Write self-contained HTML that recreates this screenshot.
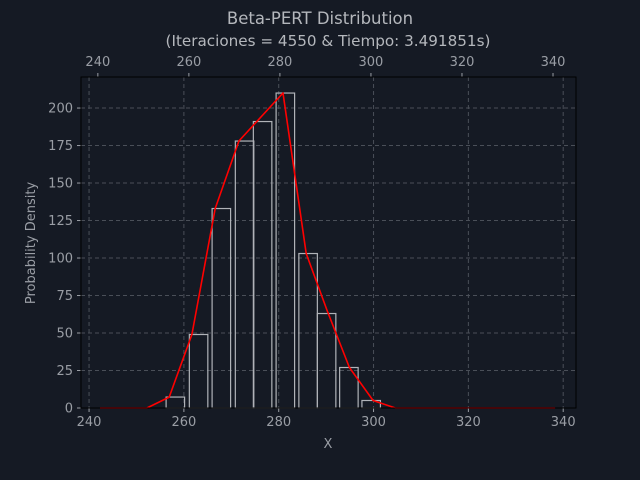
<!DOCTYPE html>
<html><head><meta charset="utf-8"><style>
html,body{margin:0;padding:0;background:#151a24;}
svg{display:block;font-family:"DejaVu Sans","Liberation Sans",sans-serif;}
</style></head><body>
<svg id="chart" width="640" height="480" viewBox="0 0 640 480" xmlns="http://www.w3.org/2000/svg">
<rect width="640" height="480" fill="#151a24"/>
<text x="320" y="24" text-anchor="middle" font-size="16.5" fill="#b4b7bc">Beta-PERT Distribution</text>
<text x="328" y="46" text-anchor="middle" font-size="15.2" fill="#b4b7bc">(Iteraciones = 4550 &amp; Tiempo: 3.491851s)</text>
<text x="328" y="448" text-anchor="middle" font-size="13" fill="#9a9ea5">X</text>
<text transform="translate(35,243) rotate(-90)" text-anchor="middle" font-size="13" fill="#9a9ea5">Probability Density</text>
<g id="grid"></g><g id="bars"></g><g id="line"></g><g id="axes"></g>
<rect x="81" y="77" width="495" height="331" fill="none" stroke="#000" stroke-width="1"/>
</svg>
<script>
const binCenters = [258.2, 263.1, 267.9, 272.8, 276.6, 281.4, 286.2, 290.1, 294.8, 299.5];
const binHeights = [7.3, 49, 133, 178, 191, 210, 103, 63, 27, 5];
const binWidth = 3.9;
const curveX = [242.3, 252.2, 256.9, 261.7, 266.6, 271.6, 280.9, 285.8, 290.2, 294.9, 299.9, 304.6, 338.3];
const curveY = [0, 0, 7.3, 49, 133, 178, 210, 103, 65, 27, 5, 0, 0];
const xTicks = [240, 260, 280, 300, 320, 340];
const yTicks = [0, 25, 50, 75, 100, 125, 150, 175, 200];
const topTicks = [240, 260, 280, 300, 320, 340];

const L=81,R=576,T=77,B=408;
const xs=v=>L+(v-238.3)/(342.7-238.3)*(R-L);
const xt=v=>L+(v-236.3)/(345.05-236.3)*(R-L);
const ys=v=>B-(v-0)/(220.7)*(B-T);
const NS='http://www.w3.org/2000/svg';
function mk(parent,tag,attrs,text){const e=document.createElementNS(NS,tag);for(const k in attrs)e.setAttribute(k,attrs[k]);if(text!==undefined)e.textContent=text;document.getElementById(parent).appendChild(e);return e;}
const tc='#9a9ea5';
xTicks.forEach(v=>{const x=xs(v);
 let g=mk('grid','line',{x1:x,x2:x,y1:T,y2:B,stroke:'#4a4f58','stroke-dasharray':'4,3'});
 
 
 let t=mk('axes','line',{x1:x,x2:x,y1:B,y2:B+4,stroke:tc});
 
 
 let l=mk('axes','text',{x:x,y:B+18,'text-anchor':'middle','font-size':13,fill:tc},v);
 
 
});
topTicks.forEach(v=>{const x=xt(v);
 let t=mk('axes','line',{x1:x,x2:x,y1:T,y2:T-4,stroke:tc});
 
 
 let l=mk('axes','text',{x:x,y:T-11,'text-anchor':'middle','font-size':13,fill:tc},v);
 
 
});
yTicks.forEach(v=>{const y=ys(v);
 if(v>0){let g=mk('grid','line',{x1:L,x2:R,y1:y,y2:y,stroke:'#4a4f58','stroke-dasharray':'4,3'});
 
 }
 let t=mk('axes','line',{x1:L,x2:L-4,y1:y,y2:y,stroke:tc});
 
 
 let l=mk('axes','text',{x:L-8,y:y+4.5,'text-anchor':'end','font-size':13,fill:tc},v);
 
 
});
binCenters.forEach((c,i)=>{const x0=xs(c-binWidth/2),x1=xs(c+binWidth/2),y=ys(binHeights[i]);
 let r=mk('bars','rect',{x:x0,y:y,width:x1-x0,height:B-y,fill:'none',stroke:'#b0b3b8','stroke-width':1.2});
 
 
});
const pts=curveX.map((x,i)=>xs(x).toFixed(1)+','+ys(curveY[i]).toFixed(1)).join(' ');
let pl=mk('line','polyline',{points:pts,fill:'none',stroke:'#ff0000','stroke-width':1.6,'stroke-linejoin':'round'});


</script>
</body></html>
